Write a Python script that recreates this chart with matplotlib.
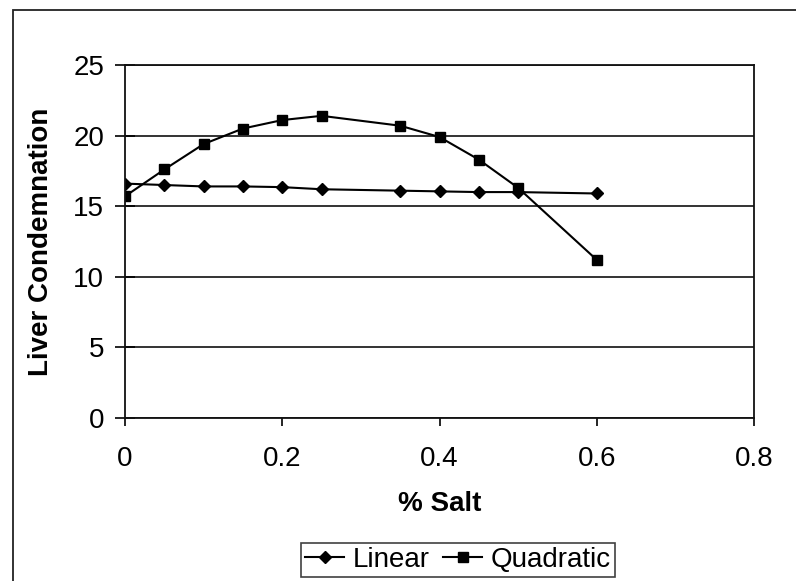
import matplotlib.pyplot as plt
from matplotlib.patches import Rectangle

plt.rcParams['font.family'] = ['Liberation Sans', 'DejaVu Sans']

# values
salt = [0, 0.05, 0.1, 0.15, 0.2, 0.25, 0.35, 0.4, 0.45, 0.5, 0.6]
linear = [16.6, 16.5, 16.4, 16.4, 16.35, 16.2, 16.1, 16.05, 16.0, 16.0, 15.9]
quadratic = [15.7, 17.6, 19.4, 20.5, 21.1, 21.4, 20.7, 19.9, 18.3, 16.3, 11.2]
xticks = [0, 0.2, 0.4, 0.6, 0.8]
yticks = [0, 5, 10, 15, 20, 25]

W, H = 796, 581
fig = plt.figure(figsize=(W / 100, H / 100), dpi=100)
fig.patch.set_facecolor('white')

# chart frame (cropped on right and bottom)
fig.patches.append(Rectangle((13 / W, -0.05), 1.1, (H - 10) / H + 0.05,
                             transform=fig.transFigure, fill=False,
                             edgecolor='#222222', linewidth=1.3))

ax = fig.add_axes([125 / W, 1 - 418 / H, (754 - 125) / W, (418 - 65) / H])
ax.set_xlim(0, 0.8)
ax.set_ylim(0, 25)
ax.set_xticks(xticks)
ax.set_xticklabels(['0', '0.2', '0.4', '0.6', '0.8'])
ax.set_yticks(yticks)
ax.yaxis.grid(True, color='#111111', linewidth=1.2)
ax.set_axisbelow(True)
for s in ax.spines.values():
    s.set_linewidth(1.3)
    s.set_color('#111111')

ax.tick_params(axis='y', direction='inout', length=14, width=1.2, labelsize=20, pad=8)
ax.tick_params(axis='x', direction='out', length=6, width=1.2, labelsize=20, pad=14)

ax.plot(salt, linear, color='black', linewidth=1.5, marker='D', markersize=6, label='Linear')
ax.plot(salt, quadratic, color='black', linewidth=1.5, marker='s', markersize=7, label='Quadratic')

ax.set_xlabel('% Salt', fontsize=20, fontweight='bold', labelpad=14)
ax.set_ylabel('Liver Condemnation', fontsize=20, fontweight='bold', labelpad=14)

leg = fig.legend(loc='center', bbox_to_anchor=(458 / W, 1 - 560 / H), ncol=2,
                 fontsize=20, frameon=True, fancybox=False, handlelength=1.4,
                 handletextpad=0.3, columnspacing=0.5, borderpad=0.15)
leg.get_frame().set_edgecolor('#111111')
leg.get_frame().set_linewidth(1.2)

fig.savefig('out.png', dpi=100)
